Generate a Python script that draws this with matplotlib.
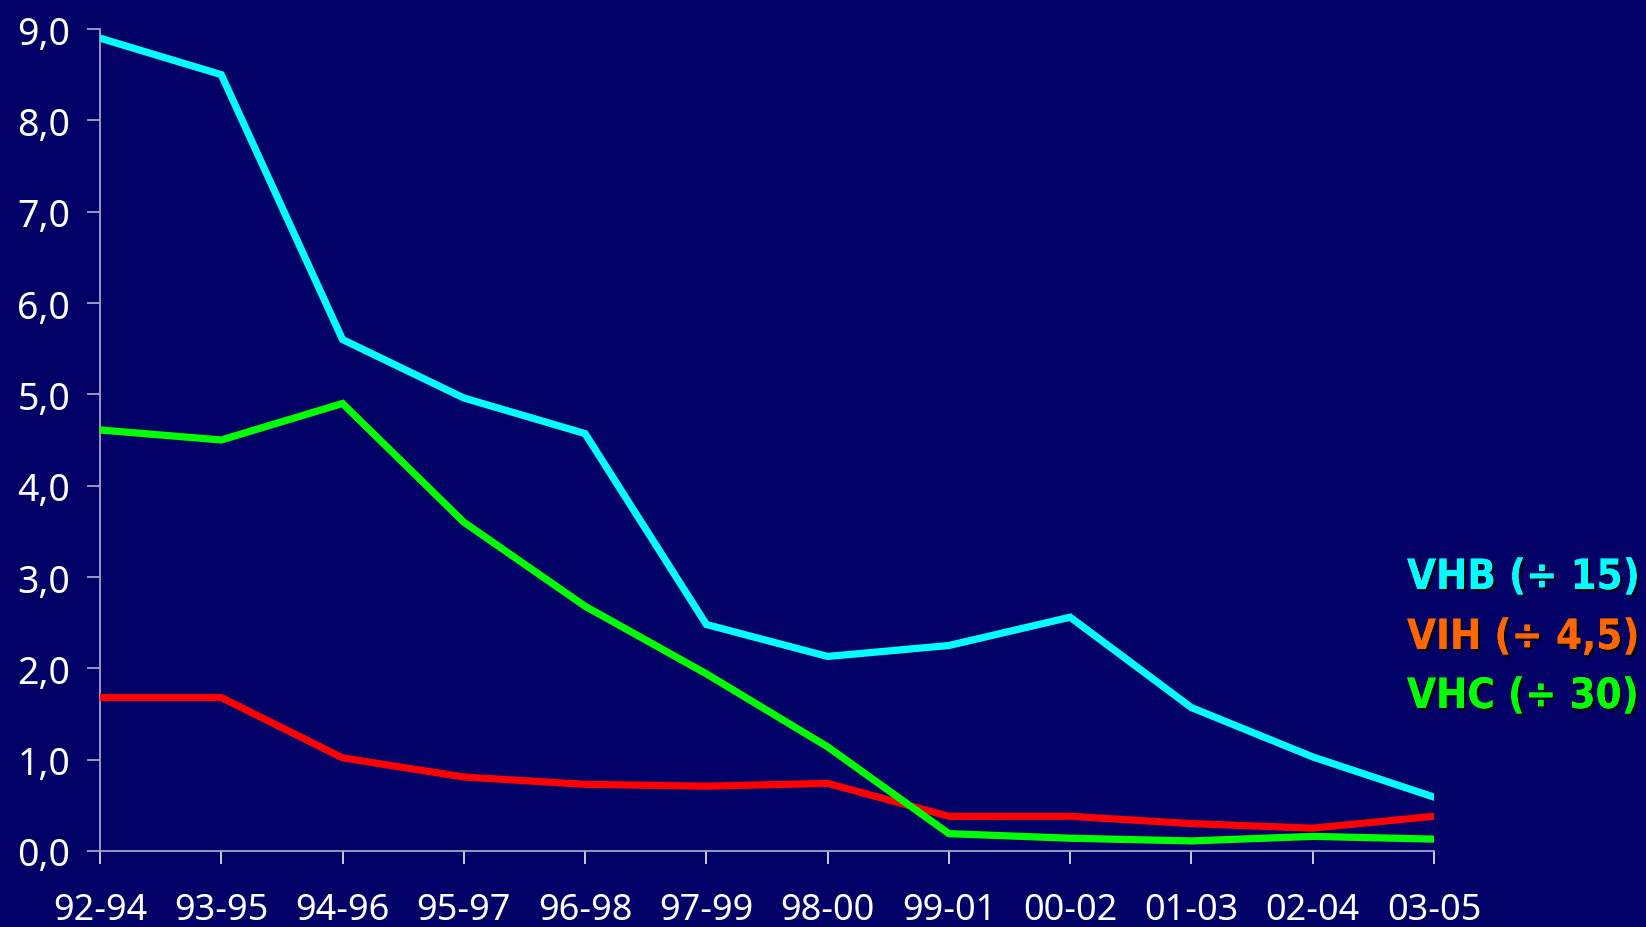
import matplotlib
matplotlib.use("Agg")
import matplotlib.pyplot as plt
import matplotlib.patheffects as pe

periods = ["92-94", "93-95", "94-96", "95-97", "96-98", "97-99",
           "98-00", "99-01", "00-02", "01-03", "02-04", "03-05"]
vhb = [8.90, 8.50, 5.60, 4.96, 4.57, 2.48, 2.13, 2.25, 2.56, 1.57, 1.03, 0.59]
vih = [1.68, 1.68, 1.02, 0.81, 0.73, 0.71, 0.74, 0.38, 0.38, 0.30, 0.25, 0.38]
vhc = [4.61, 4.50, 4.90, 3.60, 2.68, 1.94, 1.14, 0.19, 0.14, 0.11, 0.16, 0.13]
y_ticks = [0, 1, 2, 3, 4, 5, 6, 7, 8, 9]
y_labels = ["0,0", "1,0", "2,0", "3,0", "4,0", "5,0", "6,0", "7,0", "8,0", "9,0"]

bg = "#000066"
axis_col = "#a3a3c8"
plt.rcParams["font.family"] = ["Noto Sans", "DejaVu Sans"]

W, H = 1646, 928
fig = plt.figure(figsize=(W / 100, H / 100), dpi=100, facecolor=bg)
ax = fig.add_axes([100 / W, (H - 852) / H, 1334 / W, 822 / H], facecolor=bg)

x = list(range(len(periods)))
ax.plot(x, vih, color="#ff0000", lw=5.2, solid_joinstyle="miter", zorder=3)
ax.plot(x, vhc, color="#00ff00", lw=5.2, solid_joinstyle="miter", zorder=4)
ax.plot(x, vhb, color="#00ffff", lw=5.2, solid_joinstyle="miter", zorder=5)

ax.set_xlim(0, len(periods) - 1)
ax.set_ylim(0, 9)
ax.set_xticks(x)
ax.set_xticklabels(periods)
ax.set_yticks(y_ticks)
ax.set_yticklabels(y_labels)

for side in ("top", "right"):
    ax.spines[side].set_visible(False)
for side in ("left", "bottom"):
    ax.spines[side].set_color(axis_col)
    ax.spines[side].set_linewidth(1.3)

ax.tick_params(axis="y", direction="out", length=9.5, width=1.3, color=axis_col,
               labelcolor="white", labelsize=27, pad=12)
ax.tick_params(axis="x", direction="out", length=9.5, width=1.3, color="#dcdcf0",
               labelcolor="white", labelsize=26, pad=20)
for lbl in ax.get_xticklabels() + ax.get_yticklabels():
    lbl.set_clip_on(False)

shadow = [pe.withSimplePatchShadow(offset=(1.6, -1.6), shadow_rgbFace="black", alpha=0.9),
          pe.Normal()]
legend_items = [("VHB (÷ 15)", "#00ffff", 590),
                ("VIH (÷ 4,5)", "#ff6600", 650),
                ("VHC (÷ 30)", "#00ff00", 709)]
for text, col, base in legend_items:
    fig.text(1407 / W, 1 - base / H, text, color=col, fontsize=30,
             family="DejaVu Sans", fontweight="bold", fontstretch="condensed",
             ha="left", va="baseline", path_effects=shadow)

fig.savefig("out.png", dpi=100, facecolor=bg)
